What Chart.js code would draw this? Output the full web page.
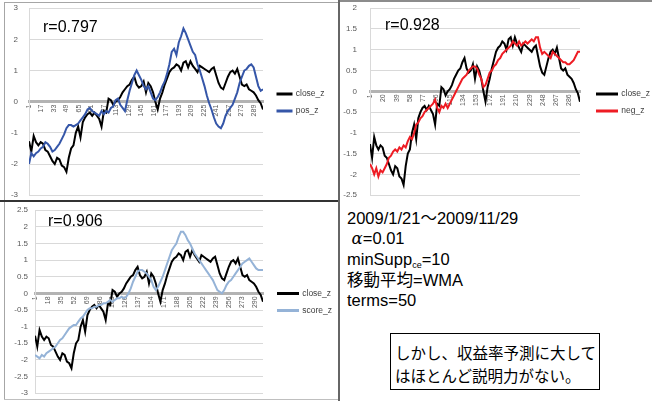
<!DOCTYPE html>
<html lang="ja">
<head>
<meta charset="UTF-8">
<title>close_z correlation</title>
<script src="https://cdn.jsdelivr.net/npm/chart.js"></script>
<style>
    body {
        margin: 0;
        width: 652px;
        height: 401px;
        position: relative;
        overflow: hidden;
        background: #ffffff;
        font-family: 'Liberation Sans', 'Noto Sans CJK JP', sans-serif;
        color: #000;
    }
    .rule { position: absolute; }
    canvas { position: absolute; }
    .r { position: absolute; font-size: 16px; line-height: 16px; white-space: nowrap; }
    #notes { position: absolute; left: 347px; top: 208px; font-size: 16.5px; line-height: 20px; white-space: nowrap; }
    #notes sub { font-size: 9px; vertical-align: -3px; line-height: 0; }
    #notes i { font-family: 'DejaVu Serif', serif; }
    #notes .jp { font-family: 'Noto Sans CJK JP', sans-serif; }
    #remark {
        position: absolute; left: 390px; top: 333px; width: 210px; height: 57px;
        border: 1px solid #000; box-sizing: border-box;
        font-family: 'Noto Sans CJK JP', sans-serif; font-size: 15.5px; line-height: 23px;
        padding: 7px 0 0 4px; white-space: nowrap;
    }
</style>
</head>
<body>

<div class="rule" style="left:338px; top:0; width:314px; height:2px; background:#8c8c8c;"></div>
<div class="rule" style="left:4px; top:2px; width:334px; height:1px; background:#a6a6a6;"></div>
<div class="rule" style="left:4px; top:2px; width:1px; height:398px; background:#a6a6a6;"></div>
<div class="rule" style="left:4px; top:399px; width:336px; height:1px; background:#bfbfbf;"></div>
<div class="rule" style="left:0; top:200px; width:340px; height:2px; background:#333;"></div>
<div class="rule" style="left:338px; top:0; width:2px; height:401px; background:#666;"></div>

<canvas id="c1" width="332" height="197" style="left:5px; top:3px;"></canvas>
<canvas id="c2" width="312" height="198" style="left:340px; top:2px;"></canvas>
<canvas id="c3" width="332" height="195" style="left:5px; top:203px;"></canvas>

<div class="r" style="left:43px; top:19px;">r=0.797</div>
<div class="r" style="left:385px; top:17px;">r=0.928</div>
<div class="r" style="left:48px; top:213px;">r=0.906</div>

<div id="notes">
    2009/1/21〜2009/11/29<br>
    &nbsp;<i>α</i>=0.01<br>
    minSupp<sub>ce</sub>=10<br>
    <span class="jp">移動平均</span>=WMA<br>
    terms=50
</div>

<div id="remark">しかし、収益率予測に大して<br>はほとんど説明力がない。</div>

<script>
    Chart.defaults.font.family = "'Liberation Sans', Arial, sans-serif";
    Chart.defaults.color = '#595959';

    // sampled every 3rd day, day 1 .. 301
    const close_z = [
        -1.27, -1.6, -1.1, -1.3, -1.4, -1.3, -1.35, -1.55, -1.6, -1.75,
        -1.9, -2.0, -1.8, -1.85, -2.05, -2.1, -2.25, -1.8, -1.5, -1.4,
        -1.0, -0.8, -1.15, -0.65, -0.5, -0.4, -0.35, -0.45, -0.35, -0.45,
        -0.55, -0.8, -0.3, -0.35, 0.1, 0.05, -0.1, 0.0, 0.05, 0.15,
        0.3, 0.4, 0.5, 0.55, 0.7, 0.8, 0.55, 0.45, 0.5, 0.65,
        0.3, 0.6, 0.5, 0.3, 0.0, -0.25, 0.1, 0.3, 0.55, 0.75,
        0.95, 1.05, 1.1, 1.2, 1.15, 1.0, 1.25, 1.3, 1.1, 1.3,
        1.15, 1.05, 0.95, 1.15, 1.1, 1.05, 1.0, 0.95, 1.05, 1.1,
        0.85, 0.6, 0.45, 0.4, 0.6, 0.8, 0.95, 1.0, 0.9, 1.05,
        0.8, 0.55, 0.5, 0.55, 0.4, 0.35, 0.3, 0.2, 0.05, -0.05,
        -0.25
    ];
    const pos_z = [
        -2.0, -1.65, -1.75, -1.65, -1.6, -1.5, -1.45, -1.3, -1.35, -1.45,
        -1.6, -1.55, -1.45, -1.35, -1.2, -1.05, -0.85, -0.75, -0.75, -0.8,
        -0.75, -0.7, -0.6, -0.5, -0.4, -0.25, -0.2, -0.3, -0.35, -0.4,
        -0.45, -0.3, -0.4, -0.3, -0.35, -0.2, -0.15, 0.05, 0.1, -0.1,
        -0.2, -0.3, 0.05, 0.35, 0.6, 0.85, 1.0, 0.85, 0.7, 0.5,
        0.4, 0.5, 0.3, 0.1, 0.05, 0.15, 0.3, 0.5, 0.65, 0.9,
        1.2, 1.6, 1.7, 1.5, 1.9, 2.1, 2.35, 2.2, 2.0, 1.8,
        1.6, 1.5, 1.2, 1.0, 0.75, 0.5, 0.2, -0.05, -0.25, -0.5,
        -0.7, -0.8, -0.85, -0.7, -0.45, -0.3, -0.2, -0.1, 0.1, 0.3,
        0.6, 0.8, 1.0, 1.05, 1.15, 1.2, 1.1, 0.8, 0.5, 0.35,
        0.4
    ];
    const neg_z = [
        -1.75, -1.85, -2.0, -1.85, -2.05, -1.9, -1.95, -1.85, -1.75, -1.6,
        -1.55, -1.45, -1.4, -1.45, -1.35, -1.4, -1.3, -1.35, -1.2, -1.1,
        -1.15, -1.0, -0.8, -0.75, -0.65, -0.6, -0.5, -0.45, -0.4, -0.35,
        -0.3, -0.2, -0.4, -0.5, -0.35, -0.4, -0.3, -0.4, -0.3, -0.2,
        -0.1, 0.0, 0.1, 0.2, 0.3, 0.35, 0.4, 0.5, 0.55, 0.6,
        0.6, 0.55, 0.4, 0.3, 0.1, 0.15, 0.3, 0.45, 0.5, 0.6,
        0.65, 0.75, 0.8, 0.9, 0.95, 1.0, 1.05, 1.1, 1.2, 1.15,
        1.1, 1.2, 1.1, 1.15, 1.2, 1.15, 1.2, 1.25, 1.2, 1.3,
        1.3, 1.05, 0.9, 0.95, 0.9, 0.85, 0.8, 0.95, 0.9, 0.85,
        0.8, 0.75, 0.7, 0.7, 0.65, 0.65, 0.7, 0.75, 0.85, 0.95,
        0.95
    ];
    const score_z = [
        -1.85, -1.9, -1.95, -1.85, -1.9, -1.8, -1.75, -1.7, -1.65, -1.6,
        -1.5, -1.4, -1.35, -1.25, -1.15, -1.05, -1.0, -0.95, -0.95, -0.85,
        -0.75, -0.7, -0.6, -0.5, -0.45, -0.45, -0.4, -0.4, -0.35, -0.35,
        -0.3, -0.3, -0.25, -0.2, -0.25, -0.2, -0.15, -0.15, -0.1, -0.15,
        -0.1, 0.0, 0.15, 0.35, 0.5, 0.65, 0.7, 0.7, 0.65, 0.6,
        0.5, 0.4, 0.2, 0.1, 0.2, 0.35, 0.5, 0.7, 0.9, 1.1,
        1.3, 1.4, 1.5, 1.7, 1.85, 1.85, 1.75, 1.6, 1.5, 1.35,
        1.2, 1.1, 1.0, 0.9, 0.8, 0.7, 0.6, 0.5, 0.4, 0.25,
        0.1, 0.05, 0.0, 0.1, 0.25, 0.35, 0.4, 0.5, 0.6, 0.7,
        0.8, 0.9, 0.95, 1.0, 1.05, 0.95, 0.85, 0.75, 0.7, 0.7,
        0.7
    ];

    const xTicks1 = [1, 17, 33, 49, 65, 81, 97, 113, 129, 145, 161, 177, 193, 209, 225, 241, 257, 273, 289];
    const xTicks2 = [1, 20, 39, 58, 77, 96, 115, 134, 153, 172, 191, 210, 229, 248, 267, 286];
    const xTicks3 = [1, 18, 35, 52, 69, 86, 103, 120, 137, 154, 171, 188, 205, 222, 239, 256, 273, 290];
    const dayStep = 3;
    const lastDay = 301;

    function points(values) {
        return values.map((v, i) => ({ x: 1 + i * dayStep, y: v }));
    }

    // nudge legend to the right like excel does
    const legendShift = {
        id: 'legendShift',
        afterLayout(chart, args, opts) {
            if (chart.legend && opts.dx) {
                chart.legend.left += opts.dx;
                chart.legend.right += opts.dx;
            }
        }
    };

    function CreateChart(id, other, c) {
        const pad = { top: 0, bottom: 0, left: 0, right: 0 };
        const chart = new Chart(document.getElementById(id), {
            type: 'line',
            data: {
                datasets: [
                    { label: 'close_z', data: points(close_z), borderColor: '#000000', backgroundColor: '#000000',
                      borderWidth: 2, pointRadius: 0, order: 1 },
                    { label: other.label, data: points(other.values), borderColor: other.color, backgroundColor: other.color,
                      borderWidth: 2, pointRadius: 0, order: 0 }
                ]
            },
            options: {
                responsive: false,
                animation: false,
                events: [],
                layout: { padding: pad },
                scales: {
                    x: {
                        type: 'linear',
                        min: 1,
                        max: lastDay,
                        position: { y: 0 },
                        grid: { display: false, drawTicks: false },
                        border: { color: '#b3b3b3', width: 3 },
                        afterBuildTicks: scale => { scale.ticks = c.xTicks.map(v => ({ value: v })); },
                        ticks: { autoSkip: false, minRotation: 90, maxRotation: 90, padding: 3,
                                 font: { size: 7 }, color: '#595959' }
                    },
                    y: {
                        min: c.yMin,
                        max: c.yMax,
                        afterFit: scale => { scale.width = c.yWidth; },
                        // invisible tick marks give the label gap (ticks.padding would shrink the plot)
                        grid: { color: '#d9d9d9', drawTicks: true, tickLength: c.yGap, tickColor: 'rgba(0,0,0,0)' },
                        border: { color: '#d9d9d9' },
                        ticks: { stepSize: c.yStep, padding: 0, font: { size: 8 }, color: '#595959',
                                 autoSkip: false, callback: v => String(Math.round(v * 10) / 10) }
                    }
                },
                plugins: {
                    tooltip: { enabled: false },
                    legend: {
                        position: 'right',
                        labels: {
                            boxWidth: c.boxWidth, boxHeight: 1, padding: 8.5,
                            font: { size: 8.5 }, color: '#404040',
                            sort: (a, b) => a.datasetIndex - b.datasetIndex
                        }
                    },
                    legendShift: { dx: c.legendDx }
                }
            },
            plugins: [legendShift]
        });

        // move the plot area onto the excel one
        const a = chart.chartArea;
        const p = chart.config.options.layout.padding;
        p.top += c.area.top - a.top;
        p.bottom += a.bottom - c.area.bottom;
        p.right += a.right - c.area.right;
        chart.update();
        return chart;
    }

    CreateChart('c1', { label: 'pos_z', values: pos_z, color: '#3556a8' },
        { xTicks: xTicks1, yMin: -3, yMax: 3, yStep: 1, yWidth: 24, yGap: 11,
          area: { top: 10, bottom: 189, right: 258 }, boxWidth: 14, legendDx: 6 });

    CreateChart('c2', { label: 'neg_z', values: neg_z, color: '#ee1c24' },
        { xTicks: xTicks2, yMin: -2.5, yMax: 2, yStep: 0.5, yWidth: 30, yGap: 13,
          area: { top: 11, bottom: 190, right: 240 }, boxWidth: 20, legendDx: 8.5 });

    CreateChart('c3', { label: 'score_z', values: score_z, color: '#95b3d7' },
        { xTicks: xTicks3, yMin: -3, yMax: 2.5, yStep: 0.5, yWidth: 30, yGap: 7,
          area: { top: 12, bottom: 186, right: 258 }, boxWidth: 20, legendDx: 6.5 });
</script>

</body>
</html>
